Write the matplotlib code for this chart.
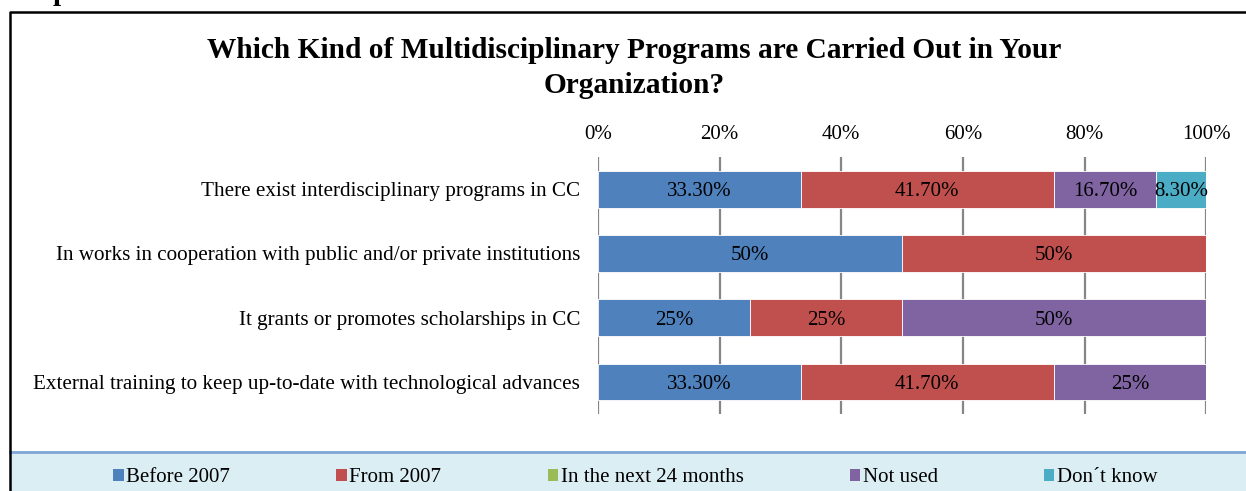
import matplotlib
matplotlib.use('Agg')
import matplotlib.pyplot as plt
from matplotlib.patches import Rectangle, Patch
from matplotlib.lines import Line2D

plt.rcParams['font.family'] = ['Liberation Serif', 'DejaVu Serif']

categories = ['There exist interdisciplinary programs in CC',
              'In works in cooperation with public and/or private institutions',
              'It grants or promotes scholarships in CC',
              'External training to keep up-to-date with technological advances']
series_names = ['Before 2007', 'From 2007', 'In the next 24 months', 'Not used', 'Don\u00b4t know']
before_2007 = [33.3, 50, 25, 33.3]
from_2007 = [41.7, 50, 25, 41.7]
next_24_months = [0, 0, 0, 0]
not_used = [16.7, 0, 50, 25]
dont_know = [8.3, 0, 0, 0]
colors = ['#4F81BD', '#C0504D', '#9BBB59', '#8064A2', '#4BACC6']
xticks = [0, 20, 40, 60, 80, 100]

series = [before_2007, from_2007, next_24_months, not_used, dont_know]

fig = plt.figure(figsize=(12.46, 4.91), dpi=100)
ax = fig.add_axes([0.480, 0.157, 0.488, 0.523])

ypos = list(range(len(categories)))
left = [0] * len(categories)
for vals, col in zip(series, colors):
    ax.barh(ypos, vals, left=left, height=0.57, color=col, edgecolor='white',
            linewidth=0.6, zorder=3)
    for y, v, l in zip(ypos, vals, left):
        if v > 0:
            txt = '%d%%' % v if float(v).is_integer() else '%.2f%%' % v
            ax.text(l + v / 2, y, txt, ha='center', va='center_baseline', fontsize=15, zorder=4)
    left = [a + b for a, b in zip(left, vals)]

ax.set_xlim(0, 100)
ax.set_ylim(3.5, -0.5)
ax.set_xticks(xticks)
ax.set_xticklabels(['%d%%' % t for t in xticks], fontsize=15)
ax.xaxis.tick_top()
ax.tick_params(axis='x', length=0, pad=9.5)
ax.set_yticks(ypos)
ax.set_yticklabels(categories, fontsize=15.2)
ax.tick_params(axis='y', length=0, pad=13)
ax.grid(axis='x', color='#868686', linewidth=1.6, zorder=0)
ax.set_axisbelow(True)
for s in ax.spines.values():
    s.set_visible(False)

# title
fig.text(0.509, 1 - 68 / 491, 'Which Kind of Multidisciplinary Programs are Carried Out in Your\nOrganization?',
         ha='center', va='center', fontsize=21.2, fontweight='bold', linespacing=1.35)

# cut-off caption at the top
fig.text(3 / 1246, 1 - 0.5 / 491, 'Graph 4.10', ha='left', va='baseline', fontsize=21, fontweight='bold')

# legend band
fig.patches.append(Rectangle((10 / 1246, 0), 1, 39 / 491, transform=fig.transFigure,
                             facecolor='#DBEEF4', edgecolor='none', zorder=0))
fig.lines.append(Line2D([10 / 1246, 1], [39 / 491, 39 / 491], transform=fig.transFigure,
                        color='#7FA6D6', linewidth=2))

# outer frame
fig.lines.append(Line2D([10 / 1246, 10 / 1246, 1], [0, 1 - 12 / 491, 1 - 12 / 491],
                        transform=fig.transFigure, color='black', linewidth=1.8))

handles = [Patch(facecolor=c, edgecolor='none') for c in colors]
fig.legend(handles, series_names, loc='center', bbox_to_anchor=(0.510, 13 / 491), ncol=5,
           frameon=False, fontsize=15, handlelength=0.5, handleheight=0.5,
           handletextpad=0.12, columnspacing=5.1)

fig.savefig('out.png', dpi=100)
